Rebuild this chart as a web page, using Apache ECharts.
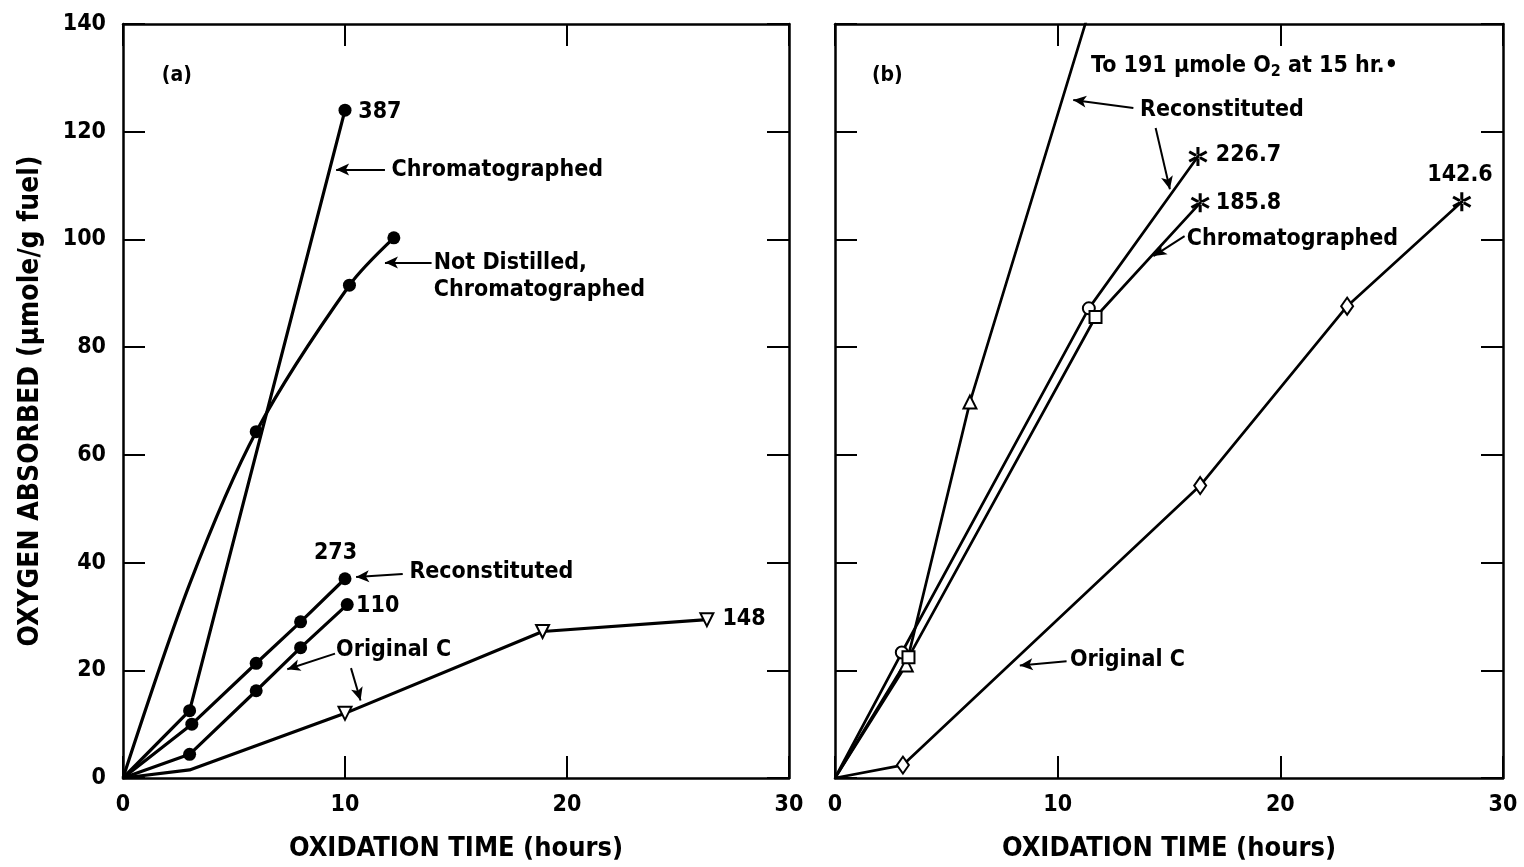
<!DOCTYPE html>
<html>
<head>
<meta charset="utf-8">
<script src="https://cdn.jsdelivr.net/npm/echarts@6/dist/echarts.min.js"></script>
<style>
  html, body { margin: 0; padding: 0; background: #fff; }
  #chart { width: 1524px; height: 867px; }
</style>
</head>
<body>
<div id="chart"></div>
<script>
// panel (a): [hours, umole O2 / g fuel]
const aChromatographed = [[0, 0], [3, 12.5], [10, 124]]
const aNotDistilled = [[0, 0], [3, 36], [6, 64.3], [10.2, 91.5], [12.2, 100.3]]
const aReconstituted = [[0, 0], [3.1, 10], [6, 21.3], [8, 29], [10, 37]]
const aFuel110 = [[0, 0], [3, 4.4], [6, 16.2], [8, 24.2], [10.1, 32.2]]
const aOriginalC = [[0, 0], [3, 1.5], [10, 12], [18.9, 27.2], [26.3, 29.4]]

// panel (b)
const bReconstitutedFast = [[0, 0], [3.2, 21], [6.06, 69.8], [15, 191]]
const bReconstituted = [[0, 0], [3, 23.3], [11.4, 87.2], [16.3, 115.4]]
const bChromatographed = [[0, 0], [3.3, 22.4], [11.7, 85.6], [16.4, 106.8]]
const bOriginalC = [[0, 0], [3.05, 2.4], [16.4, 54.3], [23, 87.6], [28.15, 107]]

const xMax = 30
const xStep = 10
const yMax = 140
const yStep = 20

const aNotes = [
  { text: '(a)', at: [1.75, 130.5], small: true },
  { text: '387', at: [10.6, 123.7] },
  { text: 'Chromatographed', at: [12.1, 112.8] },
  { text: 'Not Distilled,\nChromatographed', at: [14.0, 93.2] },
  { text: '273', at: [8.6, 41.7] },
  { text: 'Reconstituted', at: [12.9, 38.3] },
  { text: '110', at: [10.5, 32] },
  { text: 'Original C', at: [9.6, 23.7] },
  { text: '148', at: [27.0, 29.6] },
]
const aArrows = [
  [[11.8, 113], [9.6, 113]],
  [[13.9, 95.7], [11.8, 95.7]],
  [[12.6, 37.9], [10.5, 37.3]],
  [[9.55, 23.1], [7.4, 20.2]],
  [[10.27, 20.4], [10.7, 14.4]],
]

const bNotes = [
  { text: '(b)', at: [1.66, 130.5], small: true },
  { text: 'To 191 μmole O{sub|2} at 15 hr.•', at: [11.5, 132.2] },
  { text: 'Reconstituted', at: [13.7, 124] },
  { text: '226.7', at: [17.1, 115.7] },
  { text: '185.8', at: [17.1, 106.8] },
  { text: 'Chromatographed', at: [15.8, 100] },
  { text: '142.6', at: [26.6, 112] },
  { text: 'Original C', at: [10.55, 21.9] },
]
const bArrows = [
  [[13.4, 124.4], [10.7, 125.9]],
  [[14.4, 120.7], [15.04, 109.3]],
  [[15.7, 100.6], [14.3, 96.9]],
  [[10.4, 21.7], [8.3, 20.9]],
]

const INK = '#000'
const FONT = "'DejaVu Sans Condensed', 'DejaVu Sans', sans-serif"
const ASTERISK = 'path://M-1.5,-10L1.5,-10L1.5,10L-1.5,10Z' +
  'M7.91,6.3L9.41,3.7L-7.91,-6.3L-9.41,-3.7Z' +
  'M-7.91,6.3L-9.41,3.7L7.91,-6.3L9.41,-3.7Z'

const hollow = { color: '#fff', borderColor: INK, borderWidth: 2 }
const MARKS = {
  none: { symbol: 'none' },
  dot: { symbol: 'circle', symbolSize: 13, itemStyle: { color: INK, borderWidth: 0 } },
  triDown: { symbol: 'triangle', symbolSize: 13, symbolRotate: 180, itemStyle: hollow },
  tri: { symbol: 'triangle', symbolSize: 13, itemStyle: hollow },
  ring: { symbol: 'circle', symbolSize: 12, itemStyle: hollow },
  square: { symbol: 'rect', symbolSize: 12, itemStyle: hollow },
  diamond: { symbol: 'diamond', symbolSize: [12, 17], itemStyle: hollow },
  star: { symbol: ASTERISK, symbolSize: 19, itemStyle: { color: INK, borderWidth: 0 } },
}

function curve(data, marks, grid, extra) {
  return Object.assign({
    type: 'line',
    xAxisIndex: grid * 2,
    yAxisIndex: grid * 2,
    showAllSymbol: true,
    lineStyle: { color: INK, width: 3.2 },
    itemStyle: { color: INK },
    emphasis: { disabled: true },
    z: 3,
    data: data.map((p, i) => Object.assign({ value: p }, MARKS[marks[i]])),
  }, extra || {})
}

function notes(list, arrows, grid) {
  return {
    type: 'scatter',
    xAxisIndex: grid * 2,
    yAxisIndex: grid * 2,
    symbolSize: 0,
    itemStyle: { color: INK, opacity: 1 },
    emphasis: { disabled: true },
    silent: true,
    z: 5,
    label: {
      show: true,
      position: 'right',
      distance: 0,
      color: INK,
      opacity: 1,
      fontFamily: FONT,
      fontWeight: 'bold',
      fontSize: 23,
      lineHeight: 27,
      rich: {
        sub: { fontFamily: FONT, fontWeight: 'bold', fontSize: 16, color: INK, padding: [12, 0, 0, 0] },
      },
    },
    data: list.map(n => ({
      value: n.at,
      label: n.small ? { formatter: n.text, fontSize: 21 } : { formatter: n.text },
    })),
    markLine: {
      silent: true,
      animation: false,
      symbol: ['none', 'arrow'],
      symbolSize: [9, 13],
      lineStyle: { color: INK, width: 2, type: 'solid', opacity: 1 },
      label: { show: false },
      data: arrows.map(a => [{ coord: a[0] }, { coord: a[1] }]),
    },
  }
}

const borderLine = { show: true, onZero: false, lineStyle: { color: INK, width: 2.5 } }
const innerTick = { show: true, inside: true, length: 22, lineStyle: { color: INK, width: 2 } }
const tickLabel = { color: INK, fontFamily: FONT, fontWeight: 'bold', fontSize: 23 }
const axisName = { color: INK, fontFamily: FONT, fontWeight: 'bold', fontSize: 27 }

function xAxes(grid) {
  const base = { type: 'value', gridIndex: grid, min: 0, max: xMax, interval: xStep,
    axisLine: borderLine, axisTick: innerTick, splitLine: { show: false } }
  return [
    Object.assign({}, base, {
      position: 'bottom',
      name: 'OXIDATION TIME (hours)',
      nameLocation: 'middle',
      nameGap: 57,
      nameTextStyle: axisName,
      axisLabel: Object.assign({ margin: 16 }, tickLabel),
    }),
    Object.assign({}, base, { position: 'top', axisLabel: { show: false } }),
  ]
}

function yAxes(grid) {
  const base = { type: 'value', gridIndex: grid, min: 0, max: yMax, interval: yStep,
    axisLine: borderLine, axisTick: innerTick, splitLine: { show: false } }
  const left = Object.assign({}, base, { position: 'left' })
  if (grid === 0) {
    Object.assign(left, {
      name: 'OXYGEN ABSORBED (μmole/g fuel)',
      nameLocation: 'middle',
      nameGap: 78,
      nameTextStyle: Object.assign({}, axisName, { fontSize: 28 }),
      axisLabel: Object.assign({ margin: 17 }, tickLabel),
    })
  } else {
    left.axisLabel = { show: false }
  }
  return [left, Object.assign({}, base, { position: 'right', axisLabel: { show: false } })]
}

const chart = echarts.init(document.getElementById('chart'), null, { renderer: 'canvas' })
chart.setOption({
  animation: false,
  backgroundColor: '#fff',
  grid: [
    { left: 123, top: 24, width: 666, height: 756 },
    { left: 835, top: 24, width: 668, height: 756 },
  ],
  xAxis: xAxes(0).concat(xAxes(1)),
  yAxis: yAxes(0).concat(yAxes(1)),
  series: [
    curve(aChromatographed, ['none', 'dot', 'dot'], 0),
    curve(aNotDistilled, ['none', 'none', 'dot', 'dot', 'dot'], 0, { smooth: 0.3 }),
    curve(aReconstituted, ['none', 'dot', 'dot', 'dot', 'dot'], 0),
    curve(aFuel110, ['none', 'dot', 'dot', 'dot', 'dot'], 0),
    curve(aOriginalC, ['none', 'none', 'triDown', 'triDown', 'triDown'], 0),
    notes(aNotes, aArrows, 0),

    curve(bReconstitutedFast, ['none', 'tri', 'tri', 'none'], 1, { lineStyle: { color: INK, width: 2.7 } }),
    curve(bReconstituted, ['none', 'ring', 'ring', 'star'], 1, { lineStyle: { color: INK, width: 2.7 } }),
    curve(bChromatographed, ['none', 'square', 'square', 'star'], 1, { lineStyle: { color: INK, width: 2.7 } }),
    curve(bOriginalC, ['none', 'diamond', 'diamond', 'diamond', 'star'], 1, { lineStyle: { color: INK, width: 2.7 } }),
    notes(bNotes, bArrows, 1),
  ],
})
window.addEventListener('resize', () => chart.resize())
</script>
</body>
</html>
